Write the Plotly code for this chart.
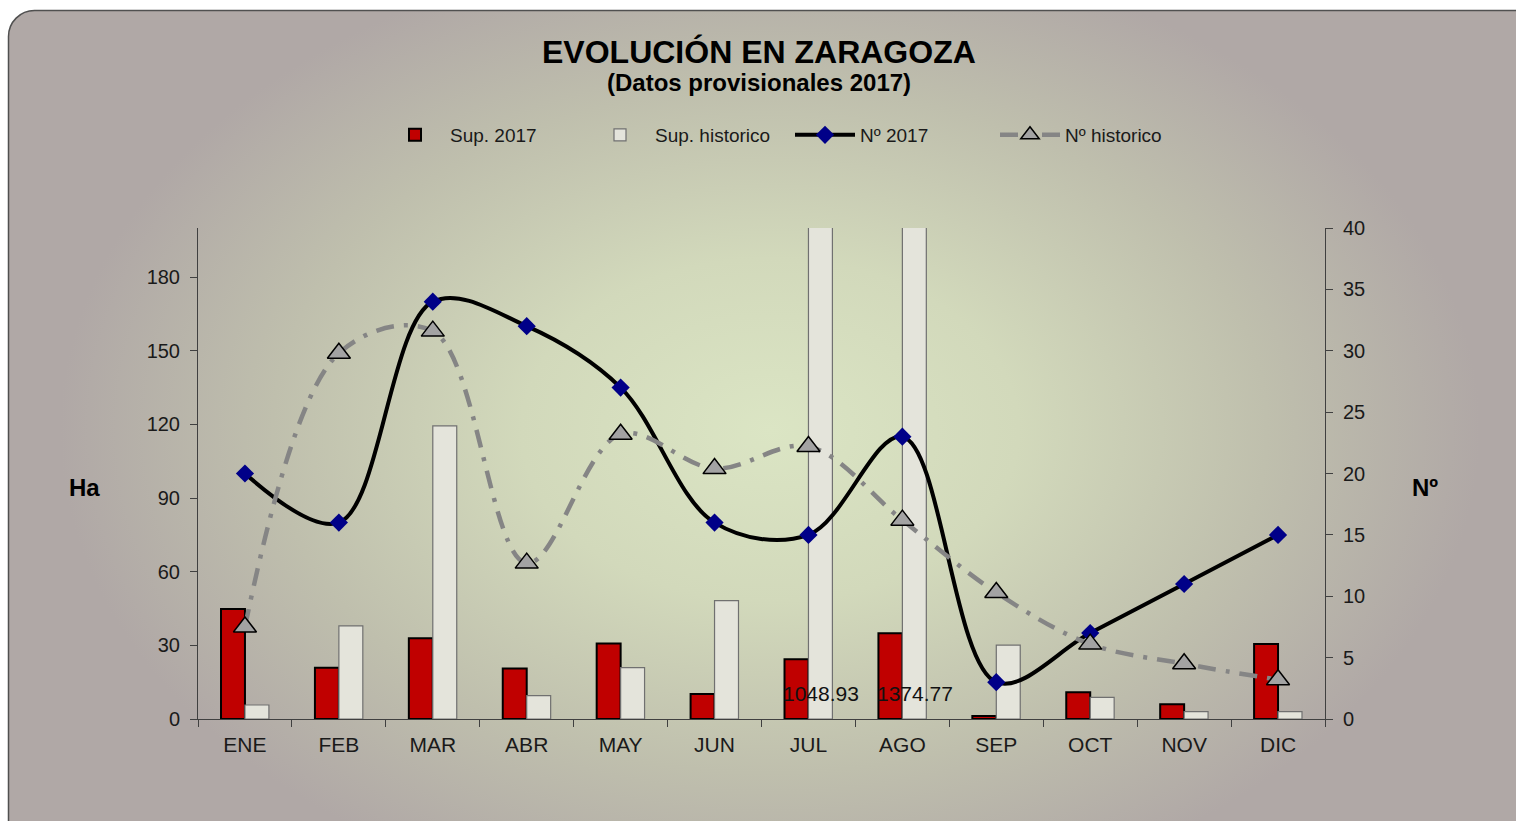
import base64
import plotly.graph_objects as go

months = ["ENE", "FEB", "MAR", "ABR", "MAY", "JUN", "JUL", "AGO", "SEP", "OCT", "NOV", "DIC"]
sup_2017 = [44.8, 20.9, 32.9, 20.6, 30.8, 10.2, 24.3, 34.9, 1.2, 10.9, 6.0, 30.5]
sup_hist = [5.7, 37.9, 119.4, 9.5, 20.9, 48.2, 1048.93, 1374.77, 30.1, 8.8, 3.0, 3.0]
n_2017 = [20, 16, 34, 32, 27, 16, 15, 23, 3, 7, 11, 15]
n_hist = [7.5, 29.8, 31.6, 12.7, 23.2, 20.4, 22.2, 16.2, 10.3, 6.1, 4.5, 3.2]
left_ticks = [0, 30, 60, 90, 120, 150, 180]
right_ticks = [0, 5, 10, 15, 20, 25, 30, 35, 40]

W, H = 1516, 821
FONT = "Liberation Sans, Arial, sans-serif"

# background panel: rounded grey card with a soft radial green glow
svg = f'''<svg xmlns="http://www.w3.org/2000/svg" width="{W}" height="{H}" viewBox="0 0 {W} {H}">
<defs>
<clipPath id="c"><rect x="8.5" y="10.5" width="1560" height="900" rx="26" ry="26"/></clipPath>
<radialGradient id="g" cx="0.5" cy="0.5" r="0.5">
<stop offset="0" stop-color="#dbe5c4"/>
<stop offset="0.35" stop-color="#d2d9bb"/>
<stop offset="0.7" stop-color="#bfbfad"/>
<stop offset="1" stop-color="#b0a8a6"/>
</radialGradient>
</defs>
<rect x="8.5" y="10.5" width="1560" height="900" rx="26" ry="26" fill="#b0a8a6"/>
<g clip-path="url(#c)"><rect x="60" y="-60" width="1420" height="980" fill="url(#g)"/></g>
<rect x="8.5" y="10.5" width="1560" height="900" rx="26" ry="26" fill="none" stroke="#505050" stroke-width="1.5"/>
</svg>'''
bg_src = "data:image/svg+xml;base64," + base64.b64encode(svg.encode()).decode()

x0, x1 = 198, 1325
y0, y1 = 228, 719

fig = go.Figure()
fig.add_trace(go.Bar(
    x=months, y=sup_2017, name="Sup. 2017",
    marker=dict(color="#c00000", line=dict(color="#000000", width=2)),
    yaxis="y",
))
fig.add_trace(go.Bar(
    x=months, y=sup_hist, name="Sup. historico",
    marker=dict(color="#e4e4db", line=dict(color="#707070", width=1.2)),
    yaxis="y",
))
fig.add_trace(go.Scatter(
    x=months, y=n_2017, name="Nº 2017", mode="lines+markers",
    line=dict(color="#000000", width=4, shape="spline", smoothing=1.0),
    marker=dict(symbol="diamond", size=14, color="#000088"),
    yaxis="y2",
))
fig.add_trace(go.Scatter(
    x=months, y=n_hist, name="Nº historico", mode="lines+markers",
    line=dict(color="#858585", width=4.5, shape="spline", smoothing=1.0,
              dash="18px,10px,4px,10px"),
    marker=dict(symbol="triangle-up", size=20, color="#a3a3a3",
                line=dict(color="#000000", width=1.5)),
    yaxis="y2",
))


def ann(text, px, py, size):
    return dict(text=text, x=px / W, y=1 - py / H, xref="paper", yref="paper",
                xanchor="center", yanchor="middle", showarrow=False,
                font=dict(size=size, color="#000000", family=FONT))


annotations = [
    ann("<b>EVOLUCIÓN EN ZARAGOZA</b>", 759, 52, 32),
    ann("<b>(Datos provisionales 2017)</b>", 759, 83, 24),
    ann("<b>Ha</b>", 84, 487, 24),
    ann("<b>Nº</b>", 1425, 487, 24),
]
for m, v in zip(months, sup_hist):
    if v > 200:
        annotations.append(dict(text=f"{v:.2f}", x=m, y=0, xref="x", yref="y",
                                xshift=13, yshift=12, yanchor="bottom", showarrow=False,
                                font=dict(size=21, color="#111111", family=FONT)))

axis_common = dict(showgrid=False, zeroline=False, showline=True, linecolor="#404040",
                   linewidth=1, ticks="outside", ticklen=7, tickcolor="#404040",
                   automargin=False)

fig.update_layout(
    width=W, height=H,
    margin=dict(l=0, r=0, t=0, b=0),
    paper_bgcolor="#ffffff", plot_bgcolor="rgba(0,0,0,0)",
    font=dict(family=FONT, color="#000000"),
    barmode="group", bargap=0.49, bargroupgap=0.0,
    images=[dict(source=bg_src, xref="paper", yref="paper", x=0, y=1, sizex=1, sizey=1,
                 xanchor="left", yanchor="top", sizing="stretch", layer="below")],
    xaxis=dict(domain=[x0 / W, x1 / W], range=[-0.5, 11.5], tickson="boundaries",
               ticklabelstandoff=7, tickfont=dict(size=21, color="#1a1a1a", family=FONT),
               **axis_common),
    yaxis=dict(domain=[1 - y1 / H, 1 - y0 / H], range=[0, 200], tickvals=left_ticks,
               ticklabelstandoff=6, tickfont=dict(size=20, color="#1a1a1a", family=FONT),
               **axis_common),
    yaxis2=dict(overlaying="y", side="right", anchor="x", range=[0, 40], tickvals=right_ticks,
                ticklabelstandoff=6, tickfont=dict(size=20, color="#1a1a1a", family=FONT),
                **axis_common),
    legend=dict(orientation="h", x=380 / W, y=1 - 135 / H, xanchor="left", yanchor="middle",
                bgcolor="rgba(0,0,0,0)", font=dict(size=19, color="#1a1a1a", family=FONT),
                itemwidth=60, entrywidth=130, entrywidthmode="pixels", traceorder="normal"),
    annotations=annotations,
    showlegend=True,
)

fig.write_html("out.html", config={"displayModeBar": False},
               post_script="document.body.style.margin='0';")
